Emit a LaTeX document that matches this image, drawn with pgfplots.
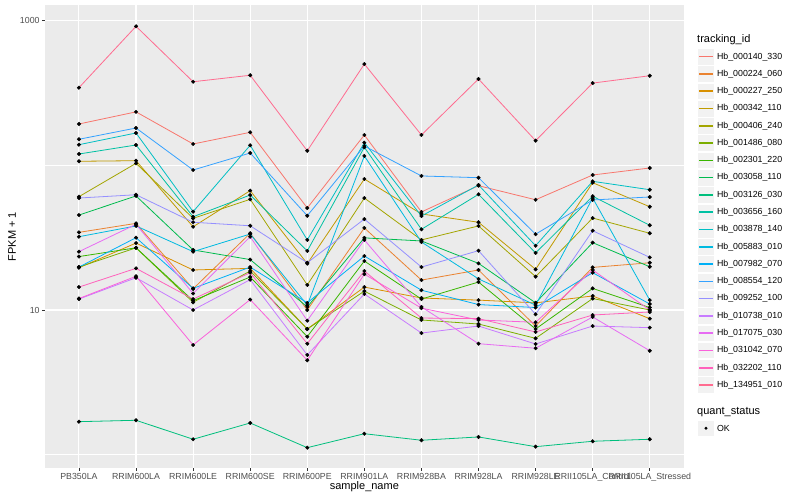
\documentclass[border=0pt]{standalone}
\usepackage{fontspec}
\setmainfont{Liberation Sans}
\usepackage{pgfplots}
\usepackage{pgfplotstable}
\pgfplotsset{compat=1.18}
\definecolor{c1}{HTML}{F8766D}
\definecolor{c2}{HTML}{EA8331}
\definecolor{c3}{HTML}{D89000}
\definecolor{c4}{HTML}{C09B00}
\definecolor{c5}{HTML}{A3A500}
\definecolor{c6}{HTML}{7CAE00}
\definecolor{c7}{HTML}{39B600}
\definecolor{c8}{HTML}{00BB4E}
\definecolor{c9}{HTML}{00BF7D}
\definecolor{c10}{HTML}{00C1A3}
\definecolor{c11}{HTML}{00BFC4}
\definecolor{c12}{HTML}{00BAE0}
\definecolor{c13}{HTML}{00B0F6}
\definecolor{c14}{HTML}{35A2FF}
\definecolor{c15}{HTML}{9590FF}
\definecolor{c16}{HTML}{C77CFF}
\definecolor{c17}{HTML}{E76BF3}
\definecolor{c18}{HTML}{FA62DB}
\definecolor{c19}{HTML}{FF62BC}
\definecolor{c20}{HTML}{FF6C90}
\definecolor{ggpanel}{HTML}{EBEBEB}
\definecolor{keybg}{HTML}{F2F2F2}
\definecolor{gray30}{HTML}{4D4D4D}
\definecolor{gray20}{HTML}{333333}

\pgfplotstableread{
x s1 s2 s3 s4 s5 s6 s7 s8 s9 s10 s11 s12 s13 s14 s15 s16 s17 s18 s19 s20
0 193 34.4 19.6 106.6 60.7 19.8 23.4 45.3 1.691 119.7 138.8 32.1 19.8 151.3 59.4 11.9 25.3 12.0 14.4 343.9
1 234 39.7 29.0 107.6 103.2 26.9 26.9 61.4 1.729 138.1 167.2 38.1 31.6 181.0 62.6 16.7 39.1 17.1 19.4 913
2 140.4 14.0 18.9 37.6 43.0 11.3 11.6 26.0 1.278 44.1 47.8 25.3 14.1 92.8 40.4 10.0 13.0 5.73 11.9 378
3 169 33.9 19.4 66.8 58.2 18.6 16.9 22.3 1.656 62.3 137.5 33.5 19.8 121.6 38.2 16.2 32.1 11.8 18.1 419
4 50.7 10.0 7.39 20.9 14.9 7.39 6.54 10.5 1.118 25.6 30.5 10.8 11.2 44.8 21.2 4.89 8.44 4.49 5.85 126
5 162 36.9 14.4 80.4 59.4 13.5 21.8 31.5 1.396 133.2 143.3 116.0 23.6 135.9 42.5 12.9 30.5 17.7 18.6 501
6 47.6 16.1 12.1 46.1 30.5 8.53 11.9 30.0 1.258 36.1 44.6 29.5 13.7 84.4 19.8 6.93 10.5 10.3 8.80 162
7 72.3 18.9 11.7 40.4 38.1 8.0 15.6 21.0 1.326 63.0 73.1 16.4 10.9 82.1 25.7 7.75 5.85 8.53 8.71 395
8 57.8 7.75 11.2 19.1 17.0 6.37 7.39 11.2 1.136 24.8 27.8 10.8 10.4 33.4 9.34 5.82 5.44 8.22 7.05 148
9 85.7 19.7 12.5 75.8 43.2 12.0 14.1 29.2 1.238 61.1 77.5 59.4 18.1 57.6 35.3 7.75 8.95 18.9 9.23 370
10 95.8 21.2 8.71 51.7 33.9 10.0 10.4 19.9 1.278 38.5 67.8 11.7 11.0 60.4 23.1 7.55 5.23 10.0 9.69 416
}\data

\begin{document}
\begin{tikzpicture}
\path[use as bounding box] (0bp,0bp) rectangle (800bp,500bp);
\begin{axis}[
  at={(44.7bp,32bp)}, anchor=south west,
  scale only axis, width=639.3bp, height=463bp,
  xmin=-0.6, xmax=10.6,
  ymode=log, ymin=0.809, ymax=1282,
  axis line style={draw=none},
  axis background/.style={fill=ggpanel},
  xtick={0,...,10},
  xticklabels={PB350LA,RRIM600LA,RRIM600LE,RRIM600SE,RRIM600PE,RRIM901LA,RRIM928BA,RRIM928LA,RRIM928LE,RRII105LA\_Control,RRII105LA\_Stressed},
  ytick={10,1000}, yticklabels={10,1000},
  minor ytick={1,100},
  xmajorgrids, ymajorgrids, yminorgrids,
  major grid style={white, line width=1.07bp},
  minor grid style={white, line width=0.53bp},
  tick align=outside, major tick length=2.74bp, minor tick length=0pt,
  tick style={gray20, line width=0.53bp},
  xtick pos=bottom, ytick pos=left,
  ticklabel style={font=\fontsize{8.8bp}{10bp}\selectfont, text=gray30},
  xticklabel style={inner sep=0pt, yshift=-2.2bp, anchor=north},
  yticklabel style={inner sep=0pt, xshift=-2.2bp, anchor=east},
]
\addplot[c1, line width=0.8bp] table[x=x,y=s1]{\data};
\addplot[c2, line width=0.8bp] table[x=x,y=s2]{\data};
\addplot[c3, line width=0.8bp] table[x=x,y=s3]{\data};
\addplot[c4, line width=0.8bp] table[x=x,y=s4]{\data};
\addplot[c5, line width=0.8bp] table[x=x,y=s5]{\data};
\addplot[c6, line width=0.8bp] table[x=x,y=s6]{\data};
\addplot[c7, line width=0.8bp] table[x=x,y=s7]{\data};
\addplot[c8, line width=0.8bp] table[x=x,y=s8]{\data};
\addplot[c9, line width=0.8bp] table[x=x,y=s9]{\data};
\addplot[c10, line width=0.8bp] table[x=x,y=s10]{\data};
\addplot[c11, line width=0.8bp] table[x=x,y=s11]{\data};
\addplot[c12, line width=0.8bp] table[x=x,y=s12]{\data};
\addplot[c13, line width=0.8bp] table[x=x,y=s13]{\data};
\addplot[c14, line width=0.8bp] table[x=x,y=s14]{\data};
\addplot[c15, line width=0.8bp] table[x=x,y=s15]{\data};
\addplot[c16, line width=0.8bp] table[x=x,y=s16]{\data};
\addplot[c17, line width=0.8bp] table[x=x,y=s17]{\data};
\addplot[c18, line width=0.8bp] table[x=x,y=s18]{\data};
\addplot[c19, line width=0.8bp] table[x=x,y=s19]{\data};
\addplot[c20, line width=0.8bp] table[x=x,y=s20]{\data};
\pgfplotsinvokeforeach{1,...,20}{
  \addplot[only marks, mark=*, mark size=1.8bp, black] table[x=x,y=s#1]{\data};
}
\end{axis}
\begin{scope}[x=1bp,y=1bp]
\foreach \col/\lab [count=\i from 0] in {c1/Hb\_000140\_330, c2/Hb\_000224\_060, c3/Hb\_000227\_250, c4/Hb\_000342\_110, c5/Hb\_000406\_240, c6/Hb\_001486\_080, c7/Hb\_002301\_220, c8/Hb\_003058\_110, c9/Hb\_003126\_030, c10/Hb\_003656\_160, c11/Hb\_003878\_140, c12/Hb\_005883\_010, c13/Hb\_007982\_070, c14/Hb\_008554\_120, c15/Hb\_009252\_100, c16/Hb\_010738\_010, c17/Hb\_017075\_030, c18/Hb\_031042\_070, c19/Hb\_032202\_110, c20/Hb\_134951\_010} {
  \pgfmathsetmacro\yy{443.3-17.28*\i}
  \filldraw[fill=keybg, draw=white, line width=0.6bp] (697.6,{\yy-8.34}) rectangle (714.3,{\yy+8.34});
  \draw[draw=\col, line width=1.6bp] (699.3,\yy) -- (712.6,\yy);
  \node[anchor=west, inner sep=0pt, font=\fontsize{8.8bp}{10bp}\selectfont] at (716.9,\yy) {\lab};
}
\filldraw[fill=keybg, draw=white, line width=0.6bp] (697.6,{71.7-8.34}) rectangle (714.3,{71.7+8.34});
\fill[black] (705.95,71.7) circle (1.6);
\node[anchor=west, inner sep=0pt, font=\fontsize{8.8bp}{10bp}\selectfont] at (716.9,71.7) {OK};
\node[anchor=west, inner sep=0pt, font=\fontsize{11bp}{13bp}\selectfont] at (697,460) {tracking\_id};
\node[anchor=west, inner sep=0pt, font=\fontsize{11bp}{13bp}\selectfont] at (697,88) {quant\_status};
\node[inner sep=0pt, font=\fontsize{11bp}{13bp}\selectfont] at (364.35,13) {sample\_name};
\node[inner sep=0pt, rotate=90, font=\fontsize{11bp}{13bp}\selectfont] at (12,263.5) {FPKM + 1};
\end{scope}
\end{tikzpicture}
\end{document}
